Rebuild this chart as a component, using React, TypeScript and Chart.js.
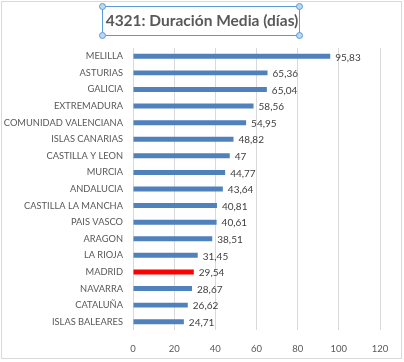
import React, { useEffect, useRef } from "react";
import { Chart, registerables } from "chart.js";

Chart.register(...registerables);

const TITLE = "4321: Duración Media (días)";
const categories = [
  "MELILLA",
  "ASTURIAS",
  "GALICIA",
  "EXTREMADURA",
  "COMUNIDAD VALENCIANA",
  "ISLAS CANARIAS",
  "CASTILLA Y LEON",
  "MURCIA",
  "ANDALUCIA",
  "CASTILLA LA MANCHA",
  "PAIS VASCO",
  "ARAGON",
  "LA RIOJA",
  "MADRID",
  "NAVARRA",
  "CATALUÑA",
  "ISLAS BALEARES",
];
const values = [
  95.83, 65.36, 65.04, 58.56, 54.95, 48.82, 47, 44.77, 43.64, 40.81, 40.61,
  38.51, 31.45, 29.54, 28.67, 26.62, 24.71,
];
const valueLabels = [
  "95,83", "65,36", "65,04", "58,56", "54,95", "48,82", "47", "44,77", "43,64",
  "40,81", "40,61", "38,51", "31,45", "29,54", "28,67", "26,62", "24,71",
];
const highlight = "MADRID";
const xTicks = [0, 20, 40, 60, 80, 100, 120];

const FONT = "Lato, 'Liberation Sans', sans-serif";
const TEXT = "#595959";

export default function App() {
  const ref = useRef<HTMLCanvasElement | null>(null);

  useEffect(() => {
    const canvas = ref.current;
    if (!canvas) return;

    const decor = {
      id: "decor",
      beforeDraw(chart: any) {
        const c = chart.ctx;
        c.save();
        c.fillStyle = "#ffffff";
        c.fillRect(0, 0, chart.width, chart.height);
        c.strokeStyle = "#d9d9d9";
        c.lineWidth = 1;
        c.strokeRect(1.5, 1.5, 400, 357);
        c.restore();
      },
      afterDraw(chart: any) {
        const c = chart.ctx;
        c.save();
        // title
        c.font = `bold 15.5px ${FONT}`;
        c.fillStyle = TEXT;
        c.textAlign = "center";
        c.textBaseline = "middle";
        c.fillText(TITLE, 202, 21);
        // selection box
        c.strokeStyle = "#5b9bd5";
        c.lineWidth = 1;
        c.strokeRect(102.5, 6.5, 197, 29);
        const pts = [
          [102.5, 6.5],
          [299.5, 6.5],
          [102.5, 35.5],
          [299.5, 35.5],
        ];
        for (const [x, y] of pts) {
          c.beginPath();
          c.arc(x, y, 3, 0, Math.PI * 2);
          c.fillStyle = "#bdd7ee";
          c.fill();
          c.strokeStyle = "#5b9bd5";
          c.stroke();
        }
        // value labels
        const meta = chart.getDatasetMeta(0);
        c.font = `10px ${FONT}`;
        c.fillStyle = "#404040";
        c.textAlign = "left";
        c.textBaseline = "middle";
        meta.data.forEach((bar: any, i: number) => {
          c.fillText(valueLabels[i], bar.x + 5, bar.y + 1);
        });
        c.restore();
      },
    };

    const chart = new Chart(canvas, {
      type: "bar",
      data: {
        labels: categories,
        datasets: [
          {
            data: values,
            backgroundColor: categories.map((c) =>
              c === highlight ? "#ff0000" : "#4f81bd"
            ),
            barPercentage: 0.6,
            categoryPercentage: 0.5,
          },
        ],
      },
      options: {
        indexAxis: "y",
        animation: false,
        responsive: false,
        devicePixelRatio: 1,
        layout: { padding: { top: 48, right: 24, bottom: 0, left: 0 } },
        plugins: {
          legend: { display: false },
          title: { display: false },
          tooltip: { enabled: false },
        },
        scales: {
          x: {
            min: 0,
            max: 120,
            afterBuildTicks: (s: any) => {
              s.ticks = xTicks.map((v) => ({ value: v }));
            },
            afterFit: (s: any) => {
              s.height = 32;
            },
            grid: { color: "#d9d9d9", drawTicks: false },
            border: { display: false },
            ticks: {
              padding: 13,
              color: TEXT,
              font: { family: FONT, size: 9.5 },
            },
          },
          y: {
            afterFit: (s: any) => {
              s.width = 133;
            },
            grid: { display: false, drawTicks: false },
            border: { display: false },
            ticks: {
              padding: 10,
              color: TEXT,
              autoSkip: false,
              font: { family: FONT, size: 9.3 },
            },
          },
        },
      },
      plugins: [decor],
    });
    return () => chart.destroy();
  }, []);

  return (
    <div style={{ position: "fixed", left: 0, top: 0, width: 404, height: 362 }}>
      <canvas ref={ref} width={404} height={362} style={{ width: 404, height: 362 }} />
    </div>
  );
}
